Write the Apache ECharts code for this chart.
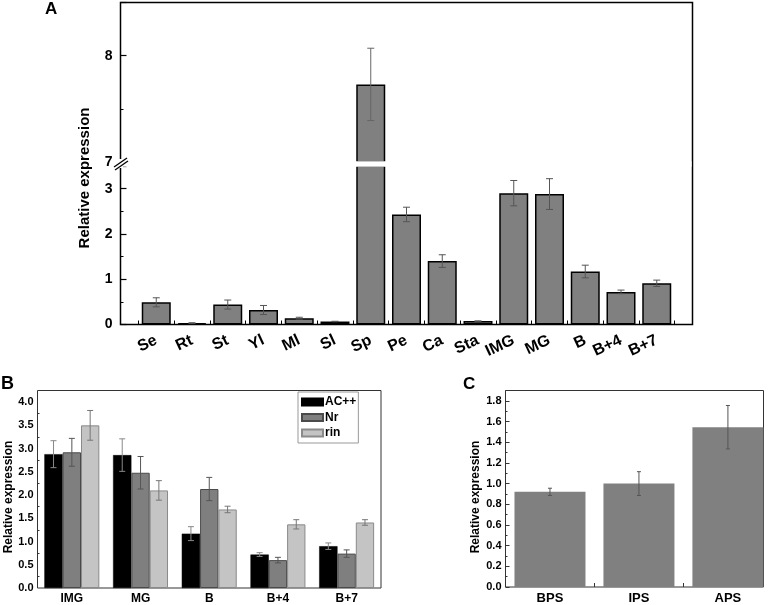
<!DOCTYPE html>
<html>
<head>
<meta charset="utf-8">
<script src="https://cdn.jsdelivr.net/npm/echarts@6/dist/echarts.min.js"></script>
<style>html,body{margin:0;padding:0;background:#fff}#c{width:775px;height:605px}</style>
</head>
<body>
<div id="c"></div>
<script>
// ---------- Panel A ----------
const catsA = ['Se','Rt','St','Yl','Ml','Sl','Sp','Pe','Ca','Sta','IMG','MG','B','B+4','B+7'];
const valsA = [0.49,0.03,0.44,0.32,0.14,0.066,7.73,2.43,1.40,0.075,2.90,2.88,1.17,0.72,0.91];
const errA  = [0.10,0.01,0.10,0.10,0.02,0.005,0.34,0.16,0.14,0.005,0.28,0.34,0.14,0.04,0.07];
const breakLow = 3.5, breakHigh = 7;

// ---------- Panel B ----------
const catsB = ['IMG','MG','B','B+4','B+7'];
const namesB = ['AC++','Nr','rin'];
const acB  = [2.88,2.86,1.17,0.72,0.90];
const acErr = [0.29,0.35,0.15,0.04,0.07];
const nrB  = [2.92,2.48,2.13,0.60,0.74];
const nrErr = [0.30,0.35,0.25,0.06,0.08];
const rinB = [3.50,2.10,1.69,1.37,1.41];
const rinErr = [0.32,0.21,0.07,0.10,0.06];

// ---------- Panel C ----------
const catsC = ['BPS','IPS','APS'];
const valsC = [0.92,1.00,1.545];
const errC  = [0.035,0.115,0.21];

const FONT = '"Liberation Sans", Arial, Helvetica, sans-serif';
const chart = echarts.init(document.getElementById('c'), null, {renderer:'canvas'});

function errBarRender(color, cap, offsetIndex, nSeries) {
  return function (params, api) {
    const x = api.value(0), v = api.value(1), e = api.value(2);
    const hi = api.coord([x, v + e]);
    const lo = api.coord([x, v - e]);
    let dx = 0;
    if (nSeries) {
      const band = api.size([1, 0])[0];
      const bw = band * 0.8 / nSeries;
      dx = (offsetIndex - (nSeries - 1) / 2) * bw;
    }
    const cx = hi[0] + dx;
    const st = {stroke: color, lineWidth: 1};
    return {type: 'group', children: [
      {type:'line', shape:{x1:cx, y1:hi[1], x2:cx, y2:lo[1]}, style:st},
      {type:'line', shape:{x1:cx-cap/2, y1:hi[1], x2:cx+cap/2, y2:hi[1]}, style:st},
      {type:'line', shape:{x1:cx-cap/2, y1:lo[1], x2:cx+cap/2, y2:lo[1]}, style:st}
    ]};
  };
}

const axisLabelA = {fontFamily: FONT, fontWeight:'bold', fontSize:14, color:'#000', margin:8};
const lblB = {fontFamily: FONT, fontWeight:'bold', fontSize:11, color:'#000', margin:4};

const lowerIdx = valsA.map((v,i)=>i).filter(i=>valsA[i] < breakHigh);
const upperIdx = valsA.map((v,i)=>i).filter(i=>valsA[i] >= breakHigh);

const option = {
  animation: false,
  textStyle: {fontFamily: FONT},
  grid: [
    {left:120.5, top:2.5, width:572, height:322, show:true, borderColor:'#000', borderWidth:1.5, backgroundColor:'transparent'},
    {left:120.5, top:2.5, width:572, height:159.5},
    {left:120.5, top:166, width:572, height:158.5},
    {left:37.5, top:390.5, width:343.5, height:198.5, show:true, borderColor:'#333', borderWidth:1},
    {left:505.5, top:390.5, width:258, height:198.5, show:true, borderColor:'#333', borderWidth:1}
  ],
  xAxis: [
    {gridIndex:0, type:'value', show:false},
    {gridIndex:1, type:'value', min:0, max:catsA.length+1, show:false},
    {gridIndex:2, type:'value', min:0, max:catsA.length+1, interval:1,
      axisLine:{show:false}, splitLine:{show:false},
      axisTick:{show:false, inside:true},
      minorTick:{show:true, splitNumber:2, length:4, lineStyle:{color:'#000', width:1}},
      minorSplitLine:{show:false},
      axisLabel:{fontFamily:FONT, fontWeight:'bold', fontSize:16, color:'#000', rotate:25, margin:15,
        formatter: v => (Number.isInteger(v) && v>=1 && v<=catsA.length) ? catsA[v-1] : ''}},
    {gridIndex:3, type:'category', data:catsB,
      axisLine:{show:false}, axisTick:{inside:true, length:4, lineStyle:{color:'#333'}},
      axisLabel:{fontFamily:FONT, fontWeight:'bold', fontSize:12, color:'#000', margin:5}},
    {gridIndex:4, type:'value', min:0.5, max:3.4, interval:0.5,
      axisLine:{show:false}, splitLine:{show:false},
      axisTick:{inside:true, length:4, lineStyle:{color:'#333'}},
      axisLabel:{fontFamily:FONT, fontWeight:'bold', fontSize:13, color:'#000', margin:5,
        showMinLabel:true, showMaxLabel:true,
        formatter: v => (Number.isInteger(v) && v>=1 && v<=catsC.length) ? catsC[v-1] : ''}}
  ],
  yAxis: [
    {gridIndex:0, type:'value', show:false},
    {gridIndex:1, type:'value', min:breakHigh, max:8.5, interval:1,
      axisLine:{show:false}, splitLine:{show:false},
      axisTick:{inside:true, length:6, lineStyle:{color:'#000', width:1.2}},
      minorTick:{show:true, splitNumber:2, length:3, lineStyle:{color:'#000'}},
      axisLabel:Object.assign({showMaxLabel:false}, axisLabelA)},
    {gridIndex:2, type:'value', min:0, max:breakLow, interval:1,
      axisLine:{show:false}, splitLine:{show:false},
      axisTick:{inside:true, length:6, lineStyle:{color:'#000', width:1.2}},
      minorTick:{show:true, splitNumber:2, length:3, lineStyle:{color:'#000'}},
      axisLabel:Object.assign({showMaxLabel:false}, axisLabelA)},
    {gridIndex:3, type:'value', min:0, max:4.25, interval:0.5,
      axisLine:{show:false}, splitLine:{show:false},
      axisTick:{inside:true, length:4, lineStyle:{color:'#333'}},
      minorTick:{show:true, splitNumber:2, length:2, lineStyle:{color:'#333'}},
      axisLabel:Object.assign({showMaxLabel:false, formatter: v=>v.toFixed(1)}, lblB)},
    {gridIndex:4, type:'value', min:0, max:1.9, interval:0.2,
      axisLine:{show:false}, splitLine:{show:false},
      axisTick:{inside:true, length:4, lineStyle:{color:'#333'}},
      minorTick:{show:true, splitNumber:2, length:2, lineStyle:{color:'#333'}},
      axisLabel:Object.assign({showMaxLabel:false, formatter: v=>v.toFixed(1)}, lblB)}
  ],
  legend: {
    data: namesB, orient:'vertical', left:298, top:392, icon:'rect',
    itemWidth:21, itemHeight:7, itemGap:1.5,
    borderColor:'#999', borderWidth:1, padding:[3,2,3,3],
    textStyle:{fontFamily:FONT, fontWeight:'bold', fontSize:12, color:'#000', lineHeight:14, padding:[0,0,0,-3]}
  },
  series: [
    // Panel A lower part
    {name:'A-low', type:'bar', xAxisIndex:2, yAxisIndex:2, barWidth:29, clip:true,
      itemStyle:{color:'#808080', borderColor:'#000', borderWidth:1.5},
      data: catsA.map((c,i)=>[i+1, valsA[i]])},
    // Panel A upper part (values above break)
    {name:'A-high', type:'bar', xAxisIndex:1, yAxisIndex:1, barWidth:29, clip:true,
      itemStyle:{color:'#808080', borderColor:'#000', borderWidth:1.5},
      data: upperIdx.map(i=>[i+1, valsA[i]])},
    {name:'A-err-low', type:'custom', xAxisIndex:2, yAxisIndex:2, z:5,
      renderItem: errBarRender('#555', 7),
      data: lowerIdx.map(i=>[i+1, valsA[i], errA[i]])},
    {name:'A-err-high', type:'custom', xAxisIndex:1, yAxisIndex:1, z:5,
      renderItem: errBarRender('#666', 7),
      data: upperIdx.map(i=>[i+1, valsA[i], errA[i]])},
    // Panel B
    {name:namesB[0], type:'bar', xAxisIndex:3, yAxisIndex:3, barGap:0, barCategoryGap:'20%',
      itemStyle:{color:'#000', borderColor:'#000', borderWidth:0.5}, data: acB},
    {name:namesB[1], type:'bar', xAxisIndex:3, yAxisIndex:3, barGap:0, barCategoryGap:'20%',
      itemStyle:{color:'#7f7f7f', borderColor:'#4a4a4a', borderWidth:1}, data: nrB},
    {name:namesB[2], type:'bar', xAxisIndex:3, yAxisIndex:3, barGap:0, barCategoryGap:'20%',
      itemStyle:{color:'#c4c4c4', borderColor:'#8a8a8a', borderWidth:1}, data: rinB},
    {name:'B-err-0', type:'custom', xAxisIndex:3, yAxisIndex:3, z:5,
      renderItem: errBarRender('#888', 6, 0, 3), data: catsB.map((c,i)=>[i, acB[i], acErr[i]])},
    {name:'B-err-1', type:'custom', xAxisIndex:3, yAxisIndex:3, z:5,
      renderItem: errBarRender('#555', 6, 1, 3), data: catsB.map((c,i)=>[i, nrB[i], nrErr[i]])},
    {name:'B-err-2', type:'custom', xAxisIndex:3, yAxisIndex:3, z:5,
      renderItem: errBarRender('#777', 6, 2, 3), data: catsB.map((c,i)=>[i, rinB[i], rinErr[i]])},
    // Panel C
    {name:'C', type:'bar', xAxisIndex:4, yAxisIndex:4, barWidth:71, clip:false,
      itemStyle:{color:'#808080'}, data: catsC.map((c,i)=>[i+1, valsC[i]])},
    {name:'C-err', type:'custom', xAxisIndex:4, yAxisIndex:4, z:5,
      renderItem: errBarRender('#555', 4), data: catsC.map((c,i)=>[i+1, valsC[i], errC[i]])}
  ],
  graphic: [
    {type:'text', left:45, top:1, z:100, style:{text:'A', font:'bold 17px ' + FONT, fill:'#000'}},
    {type:'text', left:1, top:375, z:100, style:{text:'B', font:'bold 18px ' + FONT, fill:'#000'}},
    {type:'text', left:463, top:376, z:100, style:{text:'C', font:'bold 17px ' + FONT, fill:'#000'}},
    {type:'text', x:85, y:178, rotation:Math.PI/2, z:100,
      style:{text:'Relative expression', font:'bold 15px ' + FONT, fill:'#000', align:'center', verticalAlign:'middle'}},
    {type:'text', x:8.5, y:497, rotation:Math.PI/2, z:100,
      style:{text:'Relative expression', font:'bold 12px ' + FONT, fill:'#000', align:'center', verticalAlign:'middle'}},
    {type:'text', x:476, y:497, rotation:Math.PI/2, z:100,
      style:{text:'Relative expression', font:'bold 12px ' + FONT, fill:'#000', align:'center', verticalAlign:'middle'}},
    // white band of the axis break (hides the clipped bar edges)
    {type:'rect', z:100, shape:{x:122, y:161.2, width:569.5, height:5.6}, style:{fill:'#fff'}},
    // axis break on panel A left axis
    {type:'rect', z:100, shape:{x:118, y:159, width:5, height:9}, style:{fill:'#fff'}},
    {type:'line', z:101, shape:{x1:114, y1:167, x2:127, y2:158}, style:{stroke:'#000', lineWidth:1.3}},
    {type:'line', z:101, shape:{x1:115, y1:170, x2:128, y2:161}, style:{stroke:'#000', lineWidth:1.3}}
  ]
};
chart.setOption(option);
</script>
</body>
</html>
